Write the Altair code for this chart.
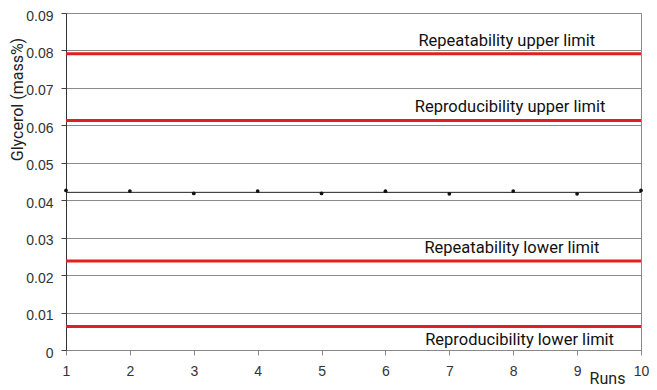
import altair as alt
import pandas as pd

runs = [1, 2, 3, 4, 5, 6, 7, 8, 9, 10]
glycerol = [0.0426, 0.04245, 0.0418, 0.04245, 0.0418, 0.0424, 0.0417, 0.04245, 0.0417, 0.0426]
mean_value = [0.0421]

limit_names = ["Repeatability upper limit", "Reproducibility upper limit",
               "Repeatability lower limit", "Reproducibility lower limit"]
limit_values = [0.0791, 0.0613, 0.0238, 0.0063]
label_run = [7.9, 7.95, 7.98, 8.1]

y_ticks = [0, 0.01, 0.02, 0.03, 0.04, 0.05, 0.06, 0.07, 0.08, 0.09]
x_ticks = runs

pts = pd.DataFrame({"run": runs, "g": glycerol})
lim = pd.DataFrame({"name": limit_names, "v": limit_values, "run": label_run})
mean_df = pd.DataFrame({"m": mean_value})

xscale = alt.Scale(domain=[1, 10], nice=False, zero=False)
yscale = alt.Scale(domain=[0, 0.09], nice=False)

xaxis = alt.Axis(values=x_ticks, grid=False, title="Runs", titleX=541, titleY=28,
                 titleAlign="center", titleBaseline="middle", titleFont="Roboto",
                 titleFontSize=16, titleFontWeight="normal", titleColor="#222",
                 labelFont="Liberation Sans", labelFontSize=14, labelColor="#333",
                 labelPadding=9, tickSize=5, tickColor="#888", domainColor="#888",
                 labelFlush=False, labelOverlap=False, format="d")
yaxis = alt.Axis(values=y_ticks, grid=True, gridColor="#8a8a8a", gridWidth=1,
                 title="Glycerol (mass%)", titleX=-49, titleY=86, titleAngle=270,
                 titleAlign="center", titleBaseline="middle", titleFont="Roboto",
                 titleFontSize=16, titleFontWeight="normal", titleColor="#222",
                 labelFont="Liberation Sans", labelFontSize=14, labelColor="#333",
                 labelPadding=8, tickSize=5, tickColor="#444", domainColor="#333",
                 labelOffset=3, labelOverlap=False,
                 labelExpr="datum.value == 0 ? '0' : format(datum.value, '.2f')")

mean_rule = alt.Chart(mean_df).mark_rule(color="#222", strokeWidth=1).encode(
    y=alt.Y("m:Q", scale=yscale, axis=yaxis)
)

limit_rules = alt.Chart(lim).mark_rule(color="#e0201f", strokeWidth=3).encode(
    y=alt.Y("v:Q", scale=yscale, axis=yaxis)
)

points = alt.Chart(pts).mark_circle(size=14, color="#111", opacity=1).encode(
    x=alt.X("run:Q", scale=xscale, axis=xaxis),
    y=alt.Y("g:Q", scale=yscale, axis=yaxis)
)

text_above = alt.Chart(lim).transform_filter(
    alt.datum.name != "Reproducibility lower limit"
).mark_text(font="Roboto", fontSize=16.5, color="#111", dy=-13, baseline="middle", align="center").encode(
    x=alt.X("run:Q", scale=xscale, axis=xaxis),
    y=alt.Y("v:Q", scale=yscale, axis=yaxis),
    text="name:N"
)

text_below = alt.Chart(lim).transform_filter(
    alt.datum.name == "Reproducibility lower limit"
).mark_text(font="Roboto", fontSize=16.5, color="#111", dy=14, baseline="middle", align="center").encode(
    x=alt.X("run:Q", scale=xscale, axis=xaxis),
    y=alt.Y("v:Q", scale=yscale, axis=yaxis),
    text="name:N"
)

chart = alt.layer(mean_rule, limit_rules, points, text_above, text_below).properties(
    width=575, height=337,
    autosize=alt.AutoSizeParams(type="none"),
    padding={"left": 58, "top": 5, "right": 8, "bottom": 40},
    background="white"
).configure_view(stroke="#8a8a8a", strokeWidth=1)

chart.save("out.html", embed_options={"renderer": "svg", "actions": False})
